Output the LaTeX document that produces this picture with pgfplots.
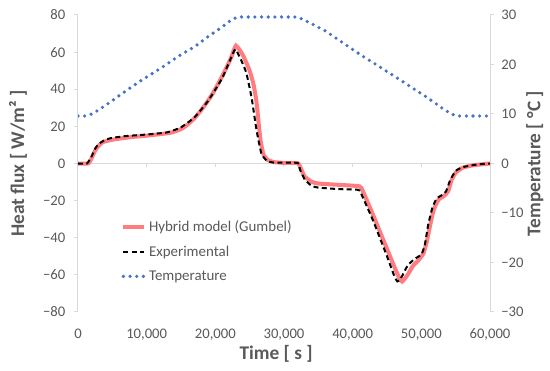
\documentclass[border=0pt]{standalone}
\usepackage{pgfplots}
\pgfplotsset{compat=1.18}
\usepackage{fontspec}
\setmainfont{Carlito}
\definecolor{tickgray}{HTML}{595959}
\definecolor{axgray}{HTML}{D9D9D9}
\definecolor{hyb}{HTML}{FF7C80}
\definecolor{tblue}{HTML}{4472C4}
\begin{document}
\begin{tikzpicture}
\useasboundingbox (-58.5pt,-44.25pt) rectangle (354pt,234pt);
\pgfplotsset{
  common/.style={
    at={(0pt,0pt)}, anchor=south west,
    scale only axis, width=309pt, height=222.75pt,
    xmin=0, xmax=60000, scaled x ticks=false,
    tick align=outside, major tick length=3pt,
    xmajorgrids=false, ymajorgrids=false,
    ytick style={axgray, line width=0.75pt},
    tick label style={font=\fontsize{11}{13}\selectfont, text=tickgray},
    label style={font=\fontsize{14.5}{17}\selectfont\bfseries, text=tickgray},
  }
}
% right axis: temperature
\begin{axis}[common,
  axis y line*=right, axis x line=none, xtick=\empty,
  y axis line style={axgray, line width=0.75pt},
  ymin=-30, ymax=30,
  ytick={-30,-20,-10,0,10,20,30},
  yticklabels={−30,−20,−10,0,10,20,30},
  yticklabel style={xshift=2pt},
  ylabel={Temperature [ °C ]},
  ylabel style={at={(axis description cs:1.109,0.5)}, anchor=center},
]
\addplot[tblue, line width=2.7pt, line cap=round, dash pattern=on 0pt off 5pt] coordinates {
(0,9.6)(1000,9.6)(2000,10.0)(3000,10.8)(5000,12.7)(7000,14.7)(9000,16.6)(12000,19.2)(15000,22.0)(17000,23.6)(19000,25.7)(21000,27.6)(22500,29.2)(23500,29.6)(32000,29.6)(33500,28.6)(36000,26.8)(41000,22.1)(46000,17.7)(51000,13.2)(53000,11.2)(54500,9.9)(55500,9.6)(60000,9.6)
};
\end{axis}
% left axis: heat flux
\begin{axis}[common,
  axis y line*=left, axis x line*=bottom,
  x axis line style={draw=none},
  xtick={0,10000,20000,30000,40000,50000,60000},
  xticklabels={0,{10,000},{20,000},{30,000},{40,000},{50,000},{60,000}},
  xtick style={draw=none}, major x tick style={draw=none},
  xticklabel style={yshift=-6pt},
  y axis line style={axgray, line width=0.75pt},
  ymin=-80, ymax=80,
  ytick={-80,-60,-40,-20,0,20,40,60,80},
  yticklabels={−80,−60,−40,−20,0,20,40,60,80},
  yticklabel style={xshift=-3pt},
  xlabel={Time [ s ]},
  xlabel style={at={(axis description cs:0.481,-0.141)}, anchor=center},
  ylabel={Heat flux [ W/m² ]},
  ylabel style={at={(axis description cs:-0.1456,0.5)}, anchor=center},
  legend style={draw=none, fill=none, at={(axis description cs:0.095,0.327)}, anchor=north west,
    font=\fontsize{11.2}{13}\selectfont, text=tickgray, row sep=5.3pt},
  legend cell align=left,
  legend image code/.code={\draw[#1] (0pt,0pt) -- (15.75pt,0pt);},
]
\draw[axgray, line width=0.75pt] (axis cs:0,0) -- (axis cs:60000,0);
\draw[axgray, line width=0.75pt] (axis cs:0,0) -- ++(0pt,-3pt);
\draw[axgray, line width=0.75pt] (axis cs:10000,0) -- ++(0pt,-3pt);
\draw[axgray, line width=0.75pt] (axis cs:20000,0) -- ++(0pt,-3pt);
\draw[axgray, line width=0.75pt] (axis cs:30000,0) -- ++(0pt,-3pt);
\draw[axgray, line width=0.75pt] (axis cs:40000,0) -- ++(0pt,-3pt);
\draw[axgray, line width=0.75pt] (axis cs:50000,0) -- ++(0pt,-3pt);
\draw[axgray, line width=0.75pt] (axis cs:60000,0) -- ++(0pt,-3pt);
\addplot[hyb, line width=3pt, smooth, tension=0.3] coordinates {
(0,0)(1500,0)(2000,3)(2500,7)(3000,9.5)(3600,11.5)(5000,12.8)(7000,13.9)(8500,14.5)(10000,15)(13400,16.5)(15000,18.5)(15800,20.5)(17000,24.5)(18200,30)(19500,37)(21000,47)(22300,57)(23000,63.5)(24000,58.5)(25000,50)(25600,42)(26000,33)(26300,22)(26600,12)(27000,5)(27600,2)(28500,0.8)(30000,0.3)(32000,0.2)(32500,-3)(33000,-7)(34000,-9.8)(35000,-10.8)(38000,-11.5)(41000,-12.3)(41500,-15)(43000,-28)(45000,-46)(46000,-55)(46700,-61)(47200,-63.6)(48000,-60)(48800,-55)(49500,-52.5)(50300,-48.5)(50800,-42)(51300,-33)(51800,-25)(52500,-19.5)(53300,-17.5)(53900,-15)(54400,-9)(55000,-5)(56000,-2.3)(57500,-1)(60000,0)
};
\addlegendentry{Hybrid model (Gumbel)}
\addplot[black, line width=1.5pt, dash pattern=on 3.75pt off 2.5pt, smooth, tension=0.3] coordinates {
(0,0)(1300,0)(2000,4)(2500,8)(3000,10.5)(4000,12.8)(5000,13.8)(7000,14.8)(10000,15.6)(13000,16.8)(15000,19.5)(17000,25)(19000,34)(21000,46)(22300,57)(22900,61.5)(23600,57)(24500,49)(25300,35)(26000,18)(26700,5.5)(27500,1.5)(28500,0.5)(32000,0.3)(32300,-3)(33000,-8.5)(34000,-12)(35000,-13)(38000,-13.8)(40800,-14.2)(41200,-16)(43000,-31)(45000,-50)(46000,-60)(46500,-63.5)(47000,-62)(48000,-55)(49000,-51.5)(50000,-49)(50500,-44)(51000,-33)(51600,-24)(52200,-19)(53000,-17)(53600,-15)(54200,-9)(55000,-4)(56000,-2)(58000,-0.6)(60000,0)
};
\addlegendentry{Experimental}
\addlegendimage{tblue, line width=2.7pt, line cap=round, dash pattern=on 0pt off 5pt}
\addlegendentry{Temperature}
\end{axis}
\end{tikzpicture}
\end{document}
